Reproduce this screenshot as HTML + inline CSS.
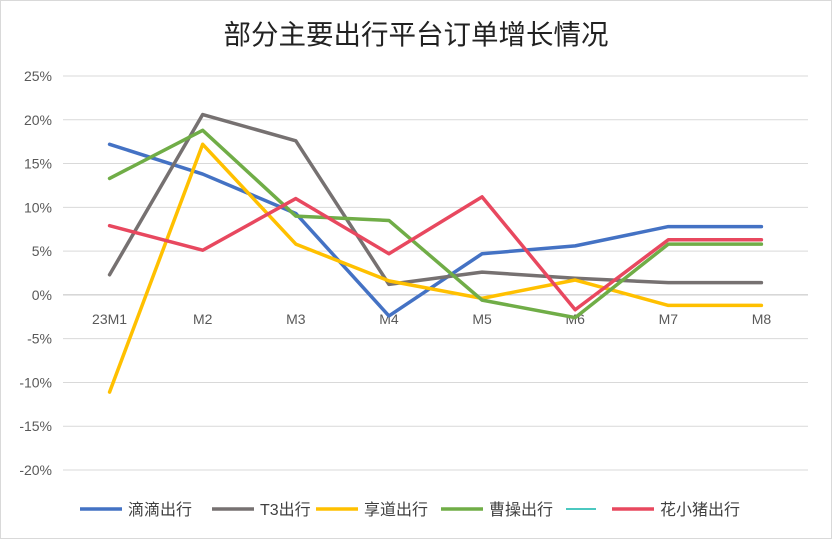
<!DOCTYPE html>
<html><head><meta charset="utf-8"><style>
body{margin:0;background:#fff;}
svg{display:block;font-family:"Liberation Sans","Noto Sans CJK SC",sans-serif;}
</style></head><body>
<svg id="chart" width="832" height="539" viewBox="0 0 832 539">
<rect x="0.5" y="0.5" width="831" height="538" fill="#fff" stroke="#d9d9d9"/>
<text x="416" y="44" text-anchor="middle" font-size="27.5" fill="#222">部分主要出行平台订单增长情况</text>
<g id="grid"></g><g id="ylabels"></g><g id="xlabels"></g><g id="lines"></g><g id="legend"></g>
</svg>
<script>
const categories=["23M1","M2","M3","M4","M5","M6","M7","M8"];
const yTicks=[-20,-15,-10,-5,0,5,10,15,20,25];
const seriesNames=["滴滴出行","T3出行","享道出行","曹操出行","花小猪出行"];
const seriesColors=["#4472c4","#767171","#ffc000","#70ad47","#e8485f"];
const didi=[17.2,13.8,9.3,-2.4,4.7,5.6,7.8,7.8];
const t3=[2.3,20.6,17.6,1.2,2.6,1.9,1.4,1.4];
const xiangdao=[-11.1,17.2,5.8,1.6,-0.4,1.7,-1.2,-1.2];
const caocao=[13.3,18.8,9.0,8.5,-0.6,-2.6,5.8,5.8];
const huaxiaozhu=[7.9,5.1,11.0,4.7,11.2,-1.7,6.3,6.3];
const seriesData=[didi,t3,xiangdao,caocao,huaxiaozhu];
const NS="http://www.w3.org/2000/svg";
const left=63,right=808,yTop=76,yBot=470;
const yMin=-20,yMax=25;
function y(v){return yBot-(v-yMin)/(yMax-yMin)*(yBot-yTop);}
function x(i){const w=(right-left)/categories.length;return left+w/2+w*i;}
function mk(tag,attrs,parent){const e=document.createElementNS(NS,tag);for(const k in attrs)e.setAttribute(k,attrs[k]);parent.appendChild(e);return e;}
const grid=document.getElementById('grid'),yl=document.getElementById('ylabels'),xl=document.getElementById('xlabels'),ln=document.getElementById('lines'),lg=document.getElementById('legend');
yTicks.forEach(t=>{
 const g=mk('line',{x1:left,x2:right,y1:y(t),y2:y(t),stroke:t===0?'#bfbfbf':'#d9d9d9','stroke-width':1},grid);
 
 
 const tx=mk('text',{x:52,y:y(t)+5,'text-anchor':'end','font-size':14,fill:'#595959'},yl);
 tx.textContent=t+'%';
 
 
});
categories.forEach((c,i)=>{
 const tx=mk('text',{x:x(i),y:y(0)+29,'text-anchor':'middle','font-size':14,fill:'#595959'},xl);
 tx.textContent=c;
 
 
});
seriesData.forEach((d,s)=>{
 const p=mk('polyline',{points:d.map((v,i)=>x(i)+','+y(v)).join(' '),fill:'none',stroke:seriesColors[s],'stroke-width':3.5,'stroke-linejoin':'round','stroke-linecap':'round'},ln);
 
 
});
const legNames=["滴滴出行","T3出行","享道出行","曹操出行","","花小猪出行"];
const legColors=["#4472c4","#767171","#ffc000","#70ad47","#4bc8c0","#e8485f"];
const legX=[80,212,316,441,566,612];
legNames.forEach((n,i)=>{
 const w=i===4?30:42;
 const l=mk('line',{x1:legX[i],x2:legX[i]+w,y1:509,y2:509,stroke:legColors[i],'stroke-width':i===4?2:3.5},lg);
 
 
 if(n){
  const t=mk('text',{x:legX[i]+w+6,y:515,'font-size':16,fill:'#404040'},lg);
  t.textContent=n;
  
  
 }
});
</script>
</body></html>
